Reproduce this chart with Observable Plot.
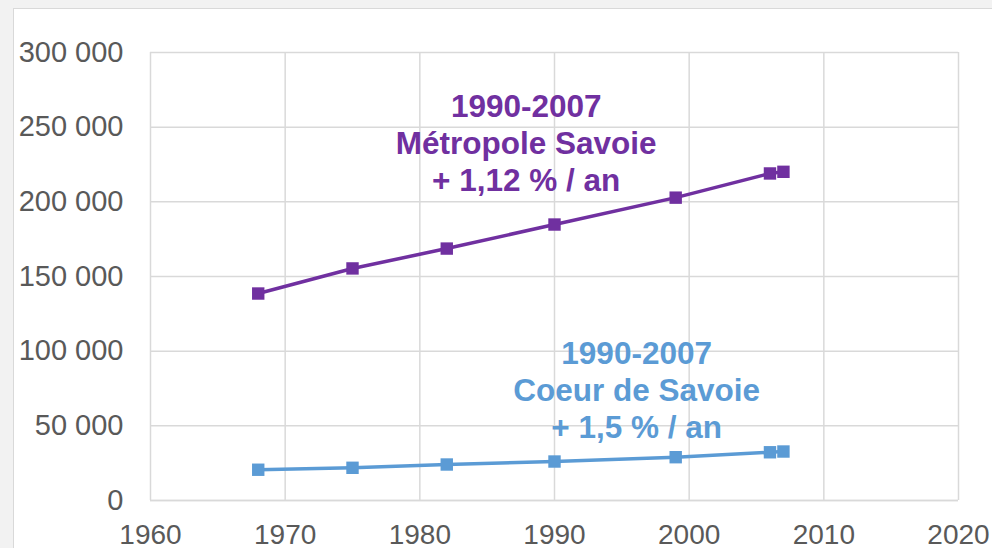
<!DOCTYPE html>
<html>
<head>
<meta charset="utf-8">
<script src="https://cdn.jsdelivr.net/npm/d3@7"></script>
<script src="https://cdn.jsdelivr.net/npm/@observablehq/plot@0.6"></script>
<style>
  html, body { margin: 0; padding: 0; width: 992px; height: 548px; overflow: hidden; background: #f2f2f2; }
  #panel { position: absolute; left: 13px; top: 8px; width: 1100px; height: 700px; background: #ffffff; border: 1.5px solid #d9d9d9; }
  #chart { position: absolute; left: 0; top: 0; }
  #chart svg { background: transparent; overflow: visible; }
</style>
</head>
<body>
<div id="panel"></div>
<div id="chart"></div>
<script>
const years = [1968, 1975, 1982, 1990, 1999, 2006, 2007];
const metropoleSavoie = [138600, 155400, 168700, 184800, 202800, 219000, 220100];
const coeurDeSavoie = [20600, 21900, 24100, 26100, 29000, 32300, 32800];
const xTicks = [1960, 1970, 1980, 1990, 2000, 2010, 2020];
const yTicks = [0, 50000, 100000, 150000, 200000, 250000, 300000];
const labelMetropole = "1990-2007\nMétropole Savoie\n+ 1,12 % / an";
const labelCoeur = "1990-2007\nCoeur de Savoie\n+ 1,5 % / an";

const purple = "#7030A0";
const blue = "#5B9BD5";
const grid = "#d9d9d9";
const tickColor = "#595959";

const dataM = years.map((y, i) => ({year: y, value: metropoleSavoie[i]}));
const dataC = years.map((y, i) => ({year: y, value: coeurDeSavoie[i]}));

const fmt = d => d3.format(",")(d).replace(/,/g, " ");

const chart = Plot.plot({
  width: 992,
  height: 548,
  marginLeft: 150,
  marginRight: 34,
  marginTop: 52,
  marginBottom: 48,
  style: {fontFamily: "'Liberation Sans', Arial, sans-serif", background: "transparent"},
  x: {domain: [1960, 2020], ticks: xTicks},
  y: {domain: [0, 300000], ticks: yTicks},
  marks: [
    Plot.gridX(xTicks, {stroke: grid, strokeOpacity: 1, strokeWidth: 1.5}),
    Plot.gridY(yTicks, {stroke: grid, strokeOpacity: 1, strokeWidth: 1.5}),
    Plot.ruleY([0], {stroke: grid, strokeWidth: 1.5}),
    Plot.axisX({ticks: xTicks, tickSize: 0, tickPadding: 24, fontSize: 28, tickFormat: d => String(d), color: tickColor, label: null}),
    Plot.axisY({ticks: yTicks, tickSize: 0, tickPadding: 27, fontSize: 29, tickFormat: fmt, color: tickColor, label: null}),
    Plot.line(dataM, {x: "year", y: "value", stroke: purple, strokeWidth: 3.5}),
    Plot.dot(dataM, {x: "year", y: "value", symbol: "square", r: 7, fill: purple, stroke: "none"}),
    Plot.line(dataC, {x: "year", y: "value", stroke: blue, strokeWidth: 3.5}),
    Plot.dot(dataC, {x: "year", y: "value", symbol: "square", r: 7, fill: blue, stroke: "none"}),
    Plot.text([labelMetropole], {x: 1987.9, y: 239900, text: d => d, fill: purple, fontSize: 31.5, fontWeight: "bold", lineHeight: 1.17, textAnchor: "middle"}),
    Plot.text([labelCoeur], {x: 1996.1, y: 74300, text: d => d, fill: blue, fontSize: 31.5, fontWeight: "bold", lineHeight: 1.17, textAnchor: "middle"})
  ]
});
document.getElementById("chart").appendChild(chart);
</script>
</body>
</html>
